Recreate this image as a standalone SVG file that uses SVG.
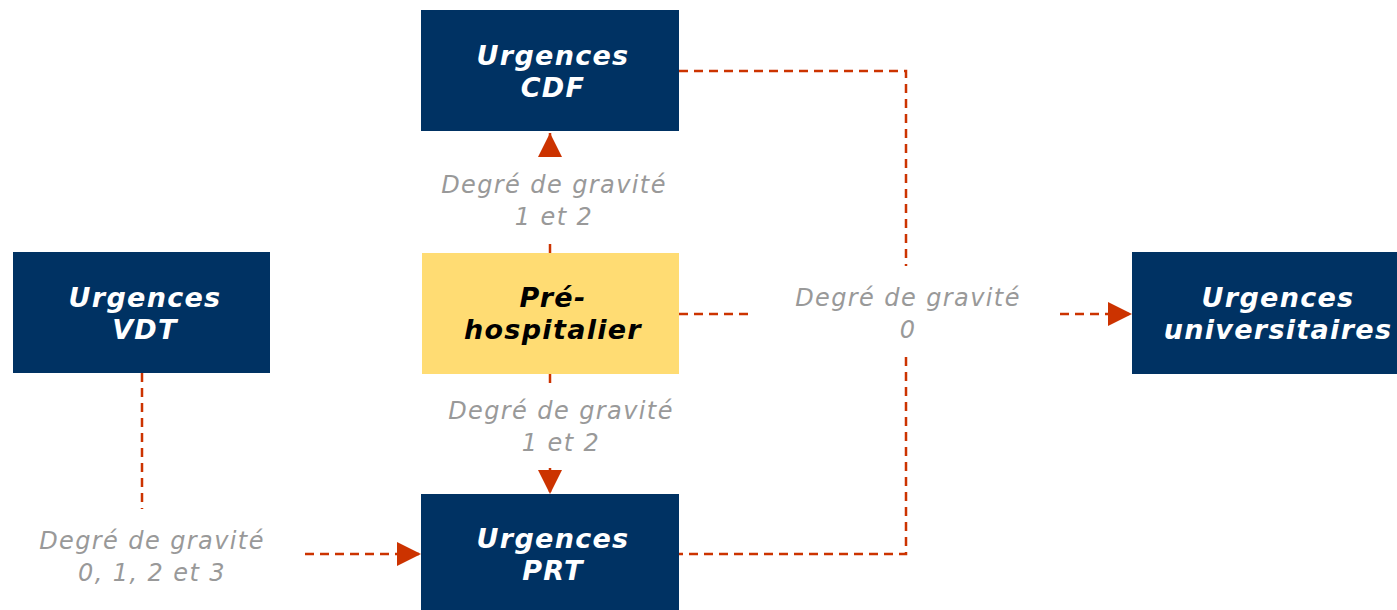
<svg xmlns="http://www.w3.org/2000/svg" width="1397" height="610" viewBox="0 0 1397 610">
<style>
.box{fill:#003263}
.yel{fill:#FFDC73}
.bt{font-family:"DejaVu Sans",Verdana,sans-serif;font-weight:bold;font-style:italic;font-size:27px;letter-spacing:1.3px;fill:#fff;text-anchor:middle}
.yt{fill:#000}
.lb{font-family:"DejaVu Sans",Verdana,sans-serif;font-style:italic;font-size:24px;letter-spacing:1.4px;fill:#999;text-anchor:middle}
.c{fill:none;stroke:#CC3300;stroke-width:2.5;stroke-dasharray:9,6}
</style>
<defs>
<marker id="ah" viewBox="0 0 10 10" refX="10" refY="5" markerWidth="24" markerHeight="24" markerUnits="userSpaceOnUse" orient="auto">
<path d="M0,0 L10,5 L0,10 z" fill="#CC3300"/>
</marker>
</defs>
<rect width="1397" height="610" fill="#fff"/>
<g id="connectors">
<path class="c" d="M550,253 V240"/>
<path class="c" d="M550,157 V133" marker-end="url(#ah)"/>
<path class="c" d="M550,374 V386"/>
<path class="c" d="M550,468 V494" marker-end="url(#ah)"/>
<path class="c" d="M679,314 H748"/>
<path class="c" d="M1060,314 H1132" marker-end="url(#ah)"/>
<path class="c" d="M679,71 H906 V266"/>
<path class="c" d="M906,357 V554 H679"/>
<path class="c" d="M142,373 V509"/>
<path class="c" d="M305,554 H421" marker-end="url(#ah)"/>
</g>
<g id="cdf">
<rect class="box" x="421" y="10" width="258" height="121"/>
<text class="bt" x="553" y="65">Urgences</text>
<text class="bt" x="553" y="97">CDF</text>
</g>
<g id="prehospitalier">
<rect class="yel" x="422" y="253" width="257" height="121"/>
<text class="bt yt" x="553" y="307">Pré-</text>
<text class="bt yt" x="553" y="339">hospitalier</text>
</g>
<g id="vdt">
<rect class="box" x="13" y="252" width="257" height="121"/>
<text class="bt" x="145" y="307">Urgences</text>
<text class="bt" x="145" y="339">VDT</text>
</g>
<g id="prt">
<rect class="box" x="421" y="494" width="258" height="116"/>
<text class="bt" x="553" y="548">Urgences</text>
<text class="bt" x="553" y="580">PRT</text>
</g>
<g id="universitaires">
<rect class="box" x="1132" y="252" width="265" height="122"/>
<text class="bt" x="1278" y="307">Urgences</text>
<text class="bt" x="1278" y="339">universitaires</text>
</g>
<g id="labels">
<text class="lb" x="554" y="193">Degré de gravité</text>
<text class="lb" x="554" y="225">1 et 2</text>
<text class="lb" x="561" y="419">Degré de gravité</text>
<text class="lb" x="561" y="451">1 et 2</text>
<text class="lb" x="908" y="306">Degré de gravité</text>
<text class="lb" x="908" y="338">0</text>
<text class="lb" x="152" y="549">Degré de gravité</text>
<text class="lb" x="152" y="581">0, 1, 2 et 3</text>
</g>
</svg>
